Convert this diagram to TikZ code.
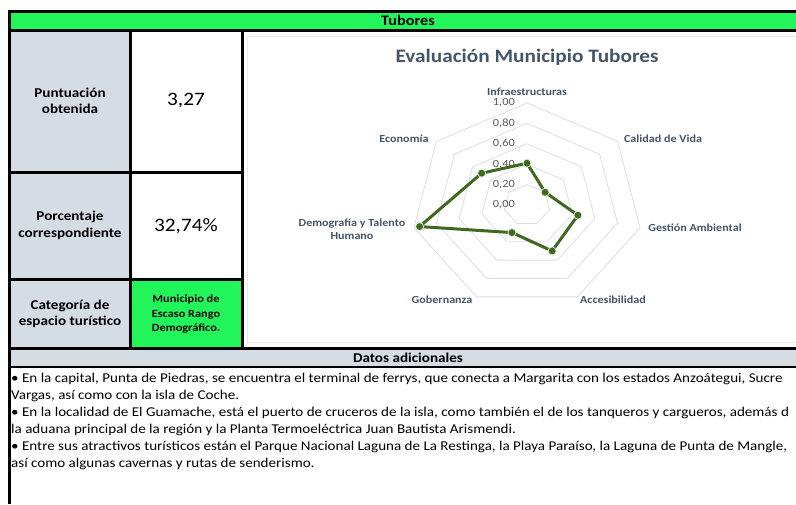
\documentclass[tikz,border=0pt]{standalone}
\usepackage{fontspec}
\setmainfont{Carlito}[FakeStretch=1.12]
\definecolor{hdrgreen}{RGB}{33,245,90}
\definecolor{cellgray}{RGB}{214,220,228}
\definecolor{slate}{RGB}{68,84,106}
\definecolor{tickgray}{RGB}{89,89,89}
\definecolor{gridc}{RGB}{217,222,232}
\definecolor{datag}{RGB}{62,105,30}
\definecolor{framec}{RGB}{232,232,232}
\tikzset{
  rule/.style={line width=3pt,black},
  thinrule/.style={line width=2pt,black},
  lbl/.style={font=\fontsize{13.5}{16.5}\selectfont\bfseries,align=center,inner sep=0pt},
  val/.style={font=\fontsize{19}{22}\selectfont,inner sep=0pt},
  cat/.style={font=\fontsize{11}{14.5}\selectfont\bfseries,align=center,inner sep=0pt},
  body/.style={font=\fontsize{13.45}{16}\selectfont,anchor=west,inner sep=0pt},
  axl/.style={font=\fontsize{10.8}{12.5}\selectfont\bfseries,text=slate,align=center,inner sep=0pt},
  tick/.style={font=\fontsize{11}{12}\selectfont,text=tickgray,anchor=east,inner sep=0pt},
  gridline/.style={draw=gridc,line width=0.8pt},
  dataline/.style={draw=datag,line width=3pt,line join=round},
  marker/.style={circle,fill=datag,draw=white!85!datag,line width=0.8pt,minimum size=8pt,inner sep=0pt}
}
\begin{document}
\begin{tikzpicture}[x=1pt,y=-1pt]
\useasboundingbox (0,0) rectangle (796,504);
\clip (0,0) rectangle (796,504);
% fills
\fill[hdrgreen] (9,11) rectangle (810,30);
\fill[cellgray] (9,30) rectangle (130,348);
\fill[hdrgreen] (130,279) rectangle (242,348);
\fill[cellgray] (9,348) rectangle (810,367);
% chart frame
\draw[framec,line width=1pt] (247.5,36.5) rectangle (812,342.5);
% rules
\draw[rule] (9,11) -- (810,11);
\draw[rule] (9,30) -- (810,30);
\draw[rule] (9,348) -- (810,348);
\draw[rule] (9,9.5) -- (9,504);
\draw[rule] (130,30) -- (130,348);
\draw[rule] (242,30) -- (242,348);
\draw[rule] (9,172) -- (242,172);
\draw[rule] (9,279) -- (242,279);
\draw[thinrule] (9,367) -- (810,367);
% header texts
\node[lbl,font=\fontsize{14.5}{16.5}\selectfont\bfseries] (title) at (408,20.5) {Tubores};
\node[lbl] (l1) at (70,101) {Puntuación\\obtenida};
\node[val] (v1) at (186,101) {3,27};
\node[lbl] (l2) at (70,225.5) {Porcentaje\\correspondiente};
\node[val] (v2) at (186,226) {32,74\%};
\node[lbl] (l3) at (70,314) {Categoría de\\espacio turístico};
\node[cat] (v3) at (186,314.5) {Municipio de\\Escaso Rango\\Demográfico.};
\node[lbl] (datos) at (408,358) {Datos adicionales};
% body
\node[body] (b1) at (11,379) {• En la capital, Punta de Piedras, se encuentra el terminal de ferrys, que conecta a Margarita con los estados Anzoátegui, Sucre};
\node[body] (b2) at (11,396) {Vargas, así como con la isla de Coche.};
\node[body] (b3) at (11,413) {• En la localidad de El Guamache, está el puerto de cruceros de la isla, como también el de los tanqueros y cargueros, además d};
\node[body] (b4) at (11,430) {la aduana principal de la región y la Planta Termoeléctrica Juan Bautista Arismendi.};
\node[body] (b5) at (11,447) {• Entre sus atractivos turísticos están el Parque Nacional Laguna de La Restinga, la Playa Paraíso, la Laguna de Punta de Mangle,};
\node[body] (b6) at (11,463.5) {así como algunas cavernas y rutas de senderismo.};
% chart title
\node[font=\fontsize{19}{21}\selectfont\bfseries,text=slate,inner sep=0pt] (ctitle) at (527,57) {Evaluación Municipio Tubores};
% radar grid
\foreach \r in {0.2,0.4,0.6,0.8,1.0}{
  \draw[gridline] plot[samples at={0,...,6}] ({527+116*\r*cos(90-\x*360/7)},{205-102*\r*sin(90-\x*360/7)}) -- cycle;
}
% tick labels
\foreach \v/\t in {0/{0,00},1/{0,20},2/{0,40},3/{0,60},4/{0,80},5/{1,00}}{
  \node[tick] (t\v) at (515,{205-20.4*\v}) {\t};
}
% data
\foreach \k/\v in {0/0.41,1/0.20,2/0.45,3/0.50,4/0.30,5/0.95,6/0.50}{
  \coordinate (p\k) at ({527+116*\v*cos(90-\k*360/7)},{205-102*\v*sin(90-\k*360/7)});
}
\draw[dataline] (p0) -- (p1) -- (p2) -- (p3) -- (p4) -- (p5) -- (p6) -- cycle;
\foreach \k in {0,...,6}{ \node[marker] (m\k) at (p\k) {}; }
% axis labels
\node[axl] (a0) at (527,92) {Infraestructuras};
\node[axl] (a1) at (663,139) {Calidad de Vida};
\node[axl] (a2) at (695,228) {Gestión Ambiental};
\node[axl] (a3) at (613,300) {Accesibilidad};
\node[axl] (a4) at (442,300) {Gobernanza};
\node[axl] (a5) at (352,229) {Demografía y Talento\\Humano};
\node[axl] (a6) at (404,139) {Economía};
\end{tikzpicture}
\end{document}
